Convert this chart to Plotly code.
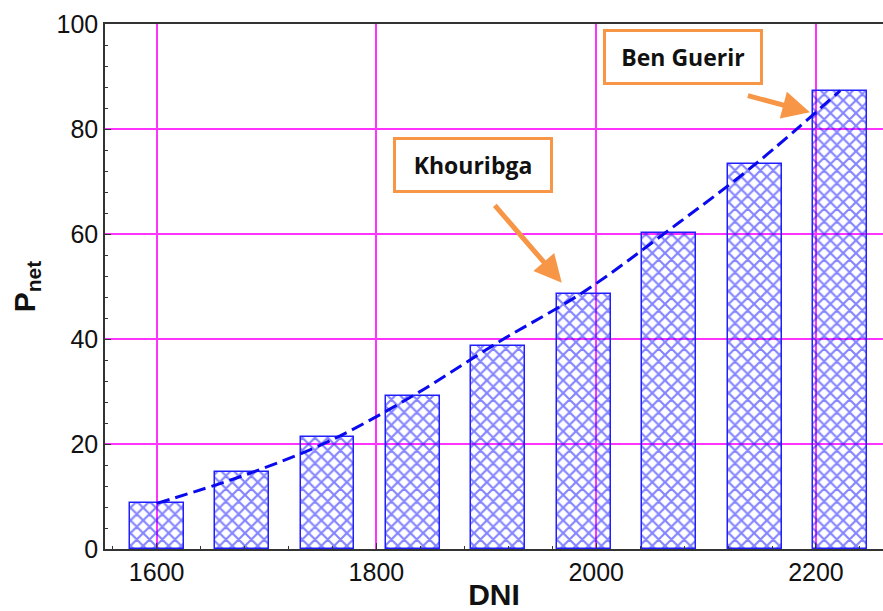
import plotly.graph_objects as go

# Data
dni = [1600, 1677.75, 1755.5, 1833.25, 1911, 1988.75, 2066.5, 2144.25, 2222]
p_net = [8.7, 14.7, 21.3, 29.1, 38.7, 48.6, 60.1, 73.3, 87.3]
fit_curve = [8.7, 13.9, 20.4, 29.2, 39.4, 49.0, 60.8, 73.2, 87.3]
x_ticks = [1600, 1800, 2000, 2200]
y_ticks = [0, 20, 40, 60, 80, 100]

orange = "#f79646"
grid = "#ff33ff"
axis_col = "#333333"
font_fam = "Liberation Sans, Arial, sans-serif"
label_fam = "Open Sans, sans-serif"

fig = go.Figure()
fig.add_trace(go.Bar(
    x=dni, y=p_net, width=49,
    marker=dict(color="rgba(0,0,0,0)",
                line=dict(color="#2020ff", width=1.5),
                pattern=dict(shape="x", fgcolor="#0a0aff", bgcolor="rgba(0,0,0,0)",
                             size=9, solidity=0.42)),
    showlegend=False,
))
fig.add_trace(go.Scatter(
    x=dni, y=fit_curve, mode="lines",
    line=dict(color="#0a0aee", width=3, dash="13px,6px", shape="spline"),
    showlegend=False,
))

# Callout boxes
fig.add_annotation(x=1887.7, y=73.1, xref="x", yref="y", text="<b>Khouribga</b>",
                   showarrow=False, font=dict(family=label_fam, size=23, color="#111111"),
                   bordercolor=orange, borderwidth=3, borderpad=4, bgcolor="white",
                   width=146, height=42, align="center", valign="middle")
fig.add_annotation(x=2078.8, y=93.7, xref="x", yref="y", text="<b>Ben Guerir</b>",
                   showarrow=False, font=dict(family=label_fam, size=23, color="#111111"),
                   bordercolor=orange, borderwidth=3, borderpad=4, bgcolor="white",
                   width=146, height=42, align="center", valign="middle")
# Arrows
fig.add_annotation(x=1968.7, y=50.7, ax=1905, ay=66.1, xref="x", yref="y", axref="x", ayref="y",
                   text=" ", showarrow=True, arrowhead=2, arrowsize=1.1, arrowwidth=5,
                   arrowcolor=orange, standoff=0)
fig.add_annotation(x=2194.5, y=83.2, ax=2135.3, ay=86.5, xref="x", yref="y", axref="x", ayref="y",
                   text=" ", showarrow=True, arrowhead=2, arrowsize=1.1, arrowwidth=5,
                   arrowcolor=orange, standoff=0)

fig.update_layout(
    width=883, height=611,
    margin=dict(l=105, r=0, t=24, b=62),
    paper_bgcolor="white", plot_bgcolor="white",
    font=dict(family=font_fam, color="#111111"),
    bargap=0,
)
fig.update_xaxes(
    range=[1553, 2261], tickvals=x_ticks, ticktext=[str(v) for v in x_ticks],
    tickfont=dict(size=25, family=font_fam), ticks="inside", ticklen=6, tickcolor=axis_col,
    showline=True, linecolor=axis_col, linewidth=1.5, mirror=True,
    showgrid=True, gridcolor=grid, gridwidth=1.5, zeroline=False,
    minor=dict(dtick=40, tick0=1600, ticks="inside", ticklen=3, tickcolor=axis_col, showgrid=False),
    title=dict(text="<b>DNI</b>", font=dict(size=30, family=font_fam), standoff=4),
)
fig.update_yaxes(
    range=[0, 100], tickvals=y_ticks, ticktext=[str(v) for v in y_ticks],
    tickfont=dict(size=25, family=font_fam), ticks="inside", ticklen=6, tickcolor=axis_col,
    showline=True, linecolor=axis_col, linewidth=1.5, mirror=False,
    showgrid=True, gridcolor=grid, gridwidth=1.5, zeroline=False,
    minor=dict(dtick=4, tick0=0, ticks="inside", ticklen=3, tickcolor=axis_col, showgrid=False),
    title=dict(text="<b>P<sub>net</sub></b>", font=dict(size=30, family=font_fam), standoff=12),
)

fig.write_html("out.html")
